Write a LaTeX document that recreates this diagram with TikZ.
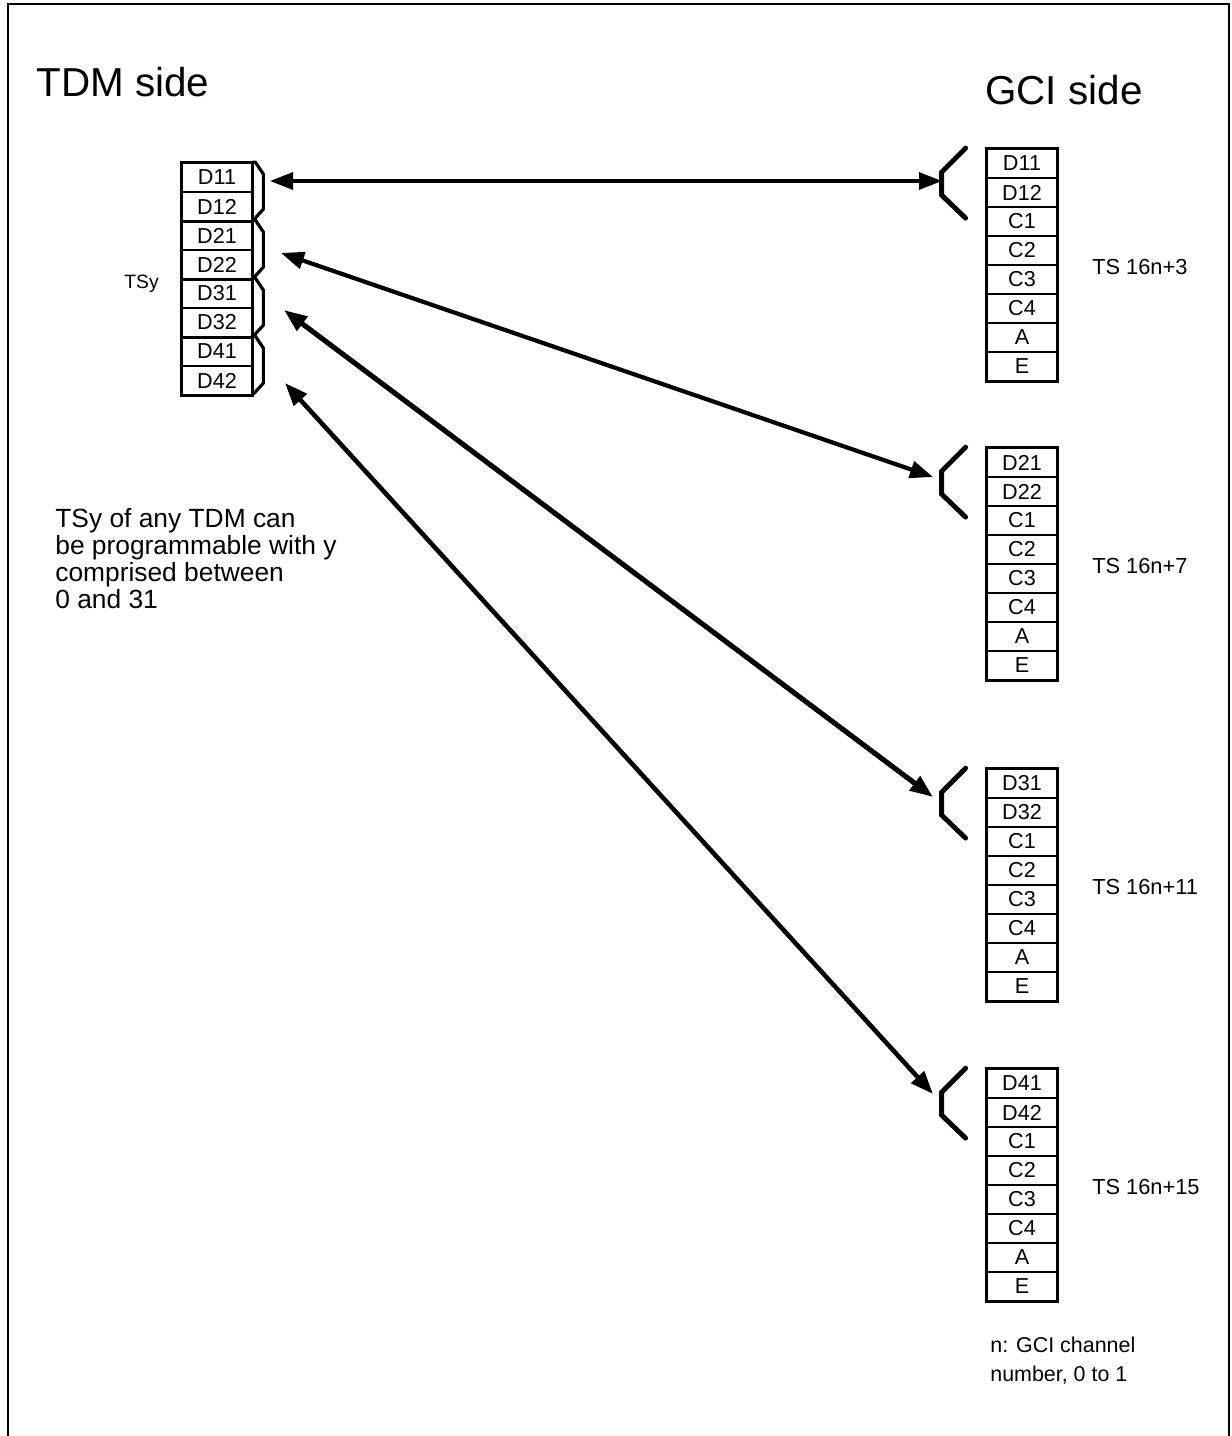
\documentclass[tikz,border=0pt]{standalone}
\usepackage{fontspec}
\setmainfont{Liberation Sans}
\usetikzlibrary{arrows.meta}
\begin{document}
\begin{tikzpicture}[x=0.02cm, y=-0.02cm,
    cell/.style={draw, line width=1pt, minimum width=1.38cm, minimum height=0.58cm, inner sep=0pt, font=\fontsize{12.3}{12.3}\selectfont},
    bracket/.style={line width=1.8pt, line join=miter},
    fork/.style={line width=2.8pt, line cap=round, line join=miter},
    link/.style={{Triangle[length=0.46cm,width=0.34cm]}-{Triangle[length=0.46cm,width=0.34cm]}},
    tslabel/.style={anchor=west, inner sep=0pt, font=\fontsize{12.4}{12.4}\selectfont}]
  \useasboundingbox (0,0) rectangle (1231,1436);
  \draw[line width=1.1pt] (8,1436) -- (8,4) -- (1229,4) -- (1229,1436);

  % TDM side
  \node[anchor=base west, inner sep=0pt, font=\fontsize{23}{23}\selectfont] (tdm) at (36,97) {TDM side};
  \foreach \n [count=\i] in {D11,D12,D21,D22,D31,D32,D41,D42}
    \node[cell] (l\i) at (217,{163+29*\i-14.5}) {\n};
  \draw[line width=1.7pt] (l1.north west) rectangle (l8.south east);
  \foreach \i in {2,4,6}
    \draw[line width=1.6pt] (l\i.south west) -- (l\i.south east);
  \foreach \i in {1,3,5,7}
    \draw[bracket] (l\i.north east) -- ++(3,0) -- ++(8,12) -- ++(0,35) -- ++(-10,11);
  \node[anchor=base west, inner sep=0pt, font=\fontsize{11}{11}\selectfont] (tsy) at (124,288) {TSy};
  \node[anchor=north west, inner sep=0pt, align=left, font=\fontsize{15}{15.4}\selectfont] (note) at (55,508)
    {TSy of any TDM can\\be programmable with y\\comprised between\\0 and 31};

  % GCI side
  \node[anchor=base west, inner sep=0pt, font=\fontsize{23}{23}\selectfont] (gci) at (985,105) {GCI side};
  \foreach \yt/\a/\b/\ts [count=\k] in {149/D11/D12/3, 448/D21/D22/7, 769/D31/D32/11, 1069/D41/D42/15} {
    \foreach \n [count=\i] in {\a,\b,C1,C2,C3,C4,A,E}
      \node[cell] (r\k-\i) at (1022,{\yt+29*\i-14.5}) {\n};
    \draw[line width=1.7pt] (r\k-1.north west) rectangle (r\k-8.south east);
    \draw[fork] ([shift={(-21,0)}]r\k-1.north west) -- ++(-24,24) -- ++(0,23) -- ++(24,23);
    \node[tslabel] (ts\k) at (1092,{\yt+118}) {TS 16n+\ts};
  }
  \node[anchor=north west, inner sep=0pt, align=left, font=\fontsize{12.2}{16}\selectfont] (chan) at (990,1337)
    {n: GCI channel\\number, 0 to 1};

  % links
  \coordinate (a1) at (270,181); \coordinate (b1) at (942,181);
  \coordinate (a2) at (281,253); \coordinate (b2) at (933,477);
  \coordinate (a3) at (284,310); \coordinate (b3) at (933,797);
  \coordinate (a4) at (285,383); \coordinate (b4) at (933,1094);
  \draw[link, line width=1.8pt] (a1) -- (b1);
  \draw[link, line width=2.4pt] (a2) -- (b2);
  \draw[link, line width=2.9pt] (a3) -- (b3);
  \draw[link, line width=2.6pt] (a4) -- (b4);
\end{tikzpicture}
\end{document}
